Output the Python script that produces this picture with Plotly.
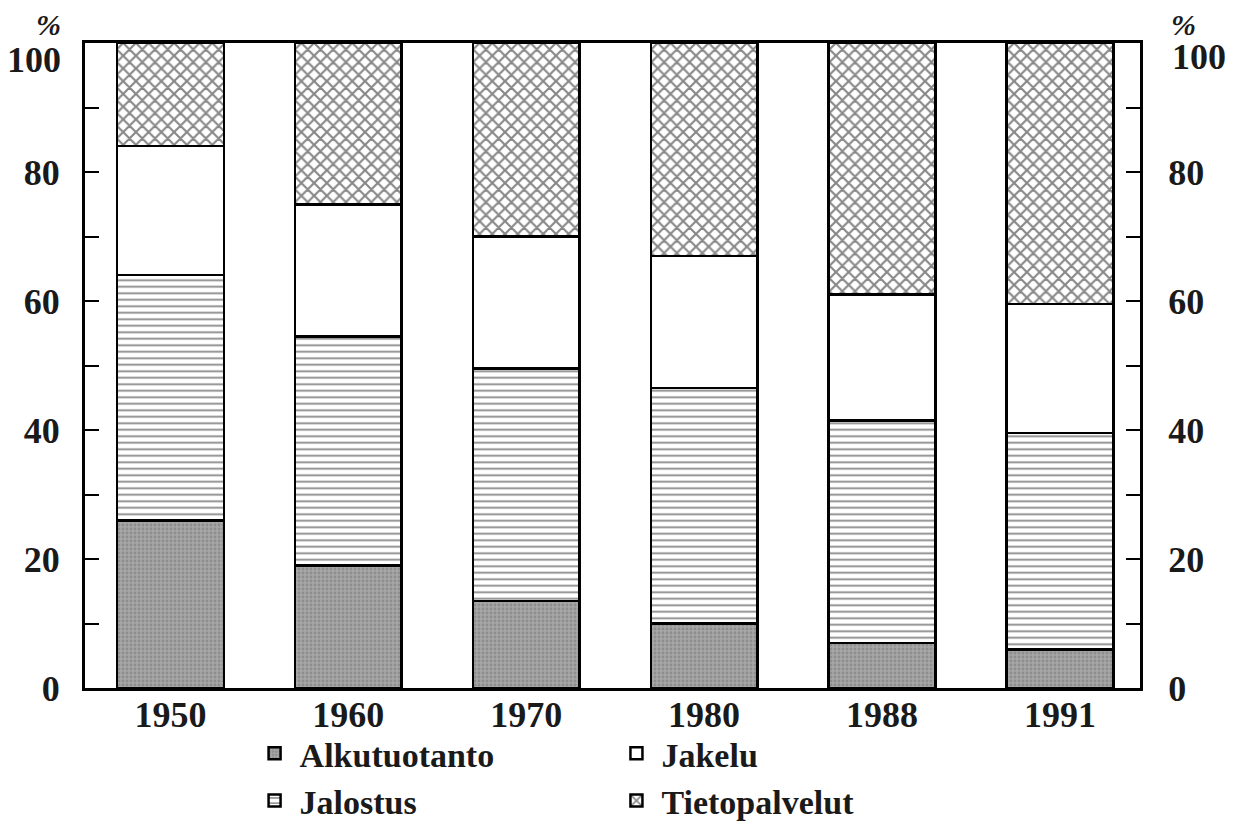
import plotly.graph_objects as go

years = ["1950", "1960", "1970", "1980", "1988", "1991"]
alkutuotanto = [26, 19, 13.5, 10, 7, 6]
jalostus = [38, 35.5, 36, 36.5, 34.5, 33.5]
jakelu = [20, 20.5, 20.5, 20.5, 19.5, 20]
tietopalvelut = [16, 25, 30, 33, 39, 40.5]
y_ticks = [0, 20, 40, 60, 80, 100]
y_ticktext = ["0", "20", "40", "60", "80", ""]   # "100" is drawn slightly lowered, as in the original
top_label = "100"

FONT = "Liberation Serif"
line = dict(color="black", width=2.5)

fig = go.Figure()
fig.add_trace(go.Bar(
    x=years, y=alkutuotanto, name="Alkutuotanto", legend="legend", legendrank=1,
    marker=dict(color="#a0a0a0", line=line,
                pattern=dict(shape=".", fgcolor="#747474", bgcolor="#a6a6a6", size=4, solidity=0.4)),
))
fig.add_trace(go.Bar(
    x=years, y=jalostus, name="Jalostus", legend="legend", legendrank=2,
    marker=dict(color="white", line=line,
                pattern=dict(shape="-", fgcolor="#111", bgcolor="white", size=6.5, solidity=0.28)),
))
fig.add_trace(go.Bar(
    x=years, y=jakelu, name="Jakelu", legend="legend2", legendrank=1,
    marker=dict(color="white", line=line),
))
fig.add_trace(go.Bar(
    x=years, y=tietopalvelut, name="Tietopalvelut", legend="legend2", legendrank=2,
    marker=dict(color="white", line=line,
                pattern=dict(shape="x", fgcolor="#111", bgcolor="white", size=9, solidity=0.42)),
))
# invisible trace to activate the right-hand axis
fig.add_trace(go.Scatter(x=years, y=[0] * len(years), yaxis="y2", mode="markers",
                         marker=dict(opacity=0), showlegend=False, hoverinfo="skip"))

axis_font = dict(family=FONT, size=36, color="#1a1a1a", weight="bold")
legend_font = dict(family=FONT, size=34, color="#1a1a1a", weight="bold")
pct_font = dict(family=FONT, size=30, color="#1a1a1a", weight="bold")
minor = dict(dtick=10, ticks="inside", ticklen=14, tickwidth=1.5, tickcolor="black")

fig.update_layout(
    width=1236, height=825,
    barmode="stack", bargap=0.4,
    paper_bgcolor="white", plot_bgcolor="white",
    margin=dict(l=77, r=104, t=35, b=145, autoexpand=False),
    font=dict(family=FONT, color="#1a1a1a"),
    xaxis=dict(type="category", range=[-0.48, 5.45], showline=True, linecolor="black",
               linewidth=3, mirror=True, ticks="", tickfont=axis_font, showgrid=False,
               automargin=False, ticklabelstandoff=-7),
    yaxis=dict(range=[0, 100], tickvals=y_ticks, ticktext=y_ticktext, ticks="inside", ticklen=14,
               tickwidth=2, tickcolor="black", showline=True, linecolor="black", linewidth=3,
               showgrid=False, zeroline=False, tickfont=axis_font, ticklabelstandoff=15,
               automargin=False, minor=minor),
    yaxis2=dict(range=[0, 100], tickvals=y_ticks, ticktext=y_ticktext, overlaying="y", side="right",
                ticks="inside", ticklen=14, tickwidth=2, tickcolor="black", showline=True,
                linecolor="black", linewidth=3, showgrid=False, zeroline=False, tickfont=axis_font,
                ticklabelstandoff=18, automargin=False, minor=minor),
    legend=dict(x=0.156, y=-0.057, xanchor="left", yanchor="top", orientation="v",
                traceorder="normal", font=legend_font, bgcolor="rgba(0,0,0,0)",
                tracegroupgap=0, itemwidth=40),
    legend2=dict(x=0.499, y=-0.057, xanchor="left", yanchor="top", orientation="v",
                 traceorder="normal", font=legend_font, bgcolor="rgba(0,0,0,0)",
                 tracegroupgap=0, itemwidth=40),
    annotations=[
        dict(text=top_label, xref="paper", yref="y", x=-0.021, y=y_ticks[-1], xanchor="right",
             yanchor="middle", yshift=-17, showarrow=False, font=axis_font),
        dict(text=top_label, xref="paper", yref="y", x=1.028, y=y_ticks[-1], xanchor="left",
             yanchor="middle", yshift=-14, showarrow=False, font=axis_font),
        dict(text="<i>%</i>", xref="paper", yref="paper", x=-0.035, y=1.0, xanchor="center",
             yanchor="bottom", showarrow=False, font=pct_font),
        dict(text="<i>%</i>", xref="paper", yref="paper", x=1.041, y=1.0, xanchor="center",
             yanchor="bottom", showarrow=False, font=pct_font),
    ],
)

fig.write_html("out.html")
